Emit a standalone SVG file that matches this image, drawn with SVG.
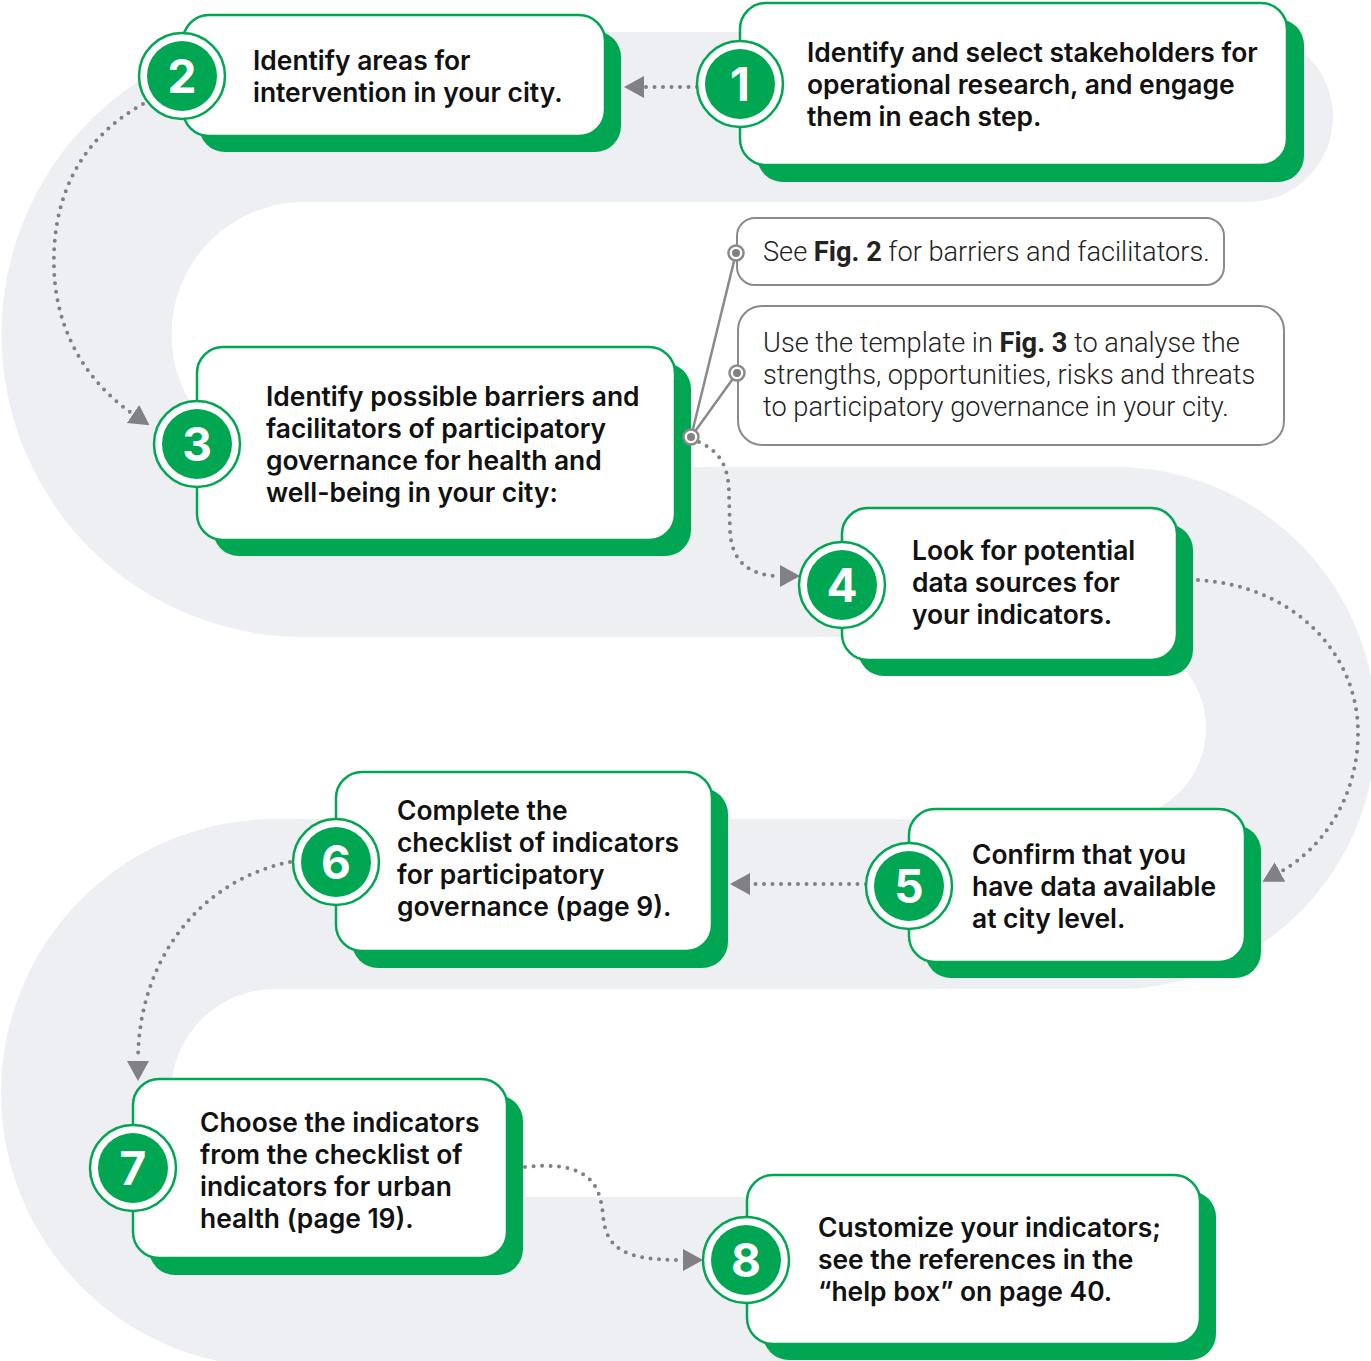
<svg xmlns="http://www.w3.org/2000/svg" width="1371" height="1361" viewBox="0 0 1371 1361">
<defs>
<marker id="arr" viewBox="0 0 20 22" refX="0" refY="11" markerWidth="20" markerHeight="22" markerUnits="userSpaceOnUse" orient="auto">
<path d="M0,0 L20,11 L0,22 Z" fill="#808085"/>
</marker>
</defs>
<style>
.bg{fill:none;stroke:#EEEFF3;stroke-width:170;stroke-linecap:round}
.shadow{fill:#00A651}
.box{fill:#fff;stroke:#00A651;stroke-width:2.5}
.ring{fill:#fff;stroke:#00A651;stroke-width:2.5}
.disc{fill:#00A651}
.num{font-family:Inter,Roboto,"Liberation Sans",sans-serif;font-weight:700;font-size:46px;fill:#fff;text-anchor:middle}
.t{font-family:Inter,Roboto,"Liberation Sans",sans-serif;font-weight:600;font-size:26.4px;fill:#111}
.c{font-family:Roboto,"Liberation Sans",sans-serif;font-weight:300;font-size:27.2px;fill:#222}
.c tspan.b{font-weight:700}
.callout{fill:#fff;stroke:#8A8A8C;stroke-width:2}
.dot{fill:none;stroke:#808085;stroke-width:4;stroke-linecap:round;stroke-dasharray:0 8.5;marker-end:url(#arr)}
.lead{stroke:#8A8A8C;stroke-width:2.5;fill:none}
.pin{fill:#fff;stroke:#8A8A8C;stroke-width:2.5}
.pind{fill:#808085}
</style>
<rect width="1371" height="1361" fill="#fff"/>
<path class="bg" d="M1248,117 L304,117 A217.5,217.5 0 0 0 304,552 L1115,552 A176,176 0 0 1 1115,904 L275,904 A189,189 0 0 0 275,1282 L1100,1282"/>

<g id="connectors">
<path class="dot" d="M697,87 L644,87"/>
<path class="dot" d="M143,104 C78,140 52,200 54,268 C56,340 95,388 133,414"/>
<path class="dot" d="M699,442 C722,452 729,470 729,495 L730,530 C731,560 748,576 780,576"/>
<path class="dot" d="M1198,580 C1290,585 1358,650 1358,733 C1358,800 1320,850 1280,872"/>
<path class="dot" d="M866,884 L750,884"/>
<path class="dot" d="M290,862 C200,880 138,960 138,1061"/>
<path class="dot" d="M525,1167 C590,1160 600,1185 603,1215 C606,1250 625,1260 683,1260"/>
<line class="lead" x1="691" y1="437" x2="736" y2="253"/>
<line class="lead" x1="691" y1="437" x2="737" y2="373"/>
</g>

<g id="node1">
<rect class="shadow" x="757" y="19" width="547" height="163" rx="26"/>
<rect class="box" x="740" y="3" width="547" height="162" rx="26"/>
<circle class="ring" cx="740" cy="84" r="43"/>
<circle class="disc" cx="740" cy="84" r="35"/>
<text class="num" x="740" y="101">1</text>
<text class="t" x="807" y="62">Identify and select stakeholders for</text>
<text class="t" x="807" y="94">operational research, and engage</text>
<text class="t" x="807" y="126">them in each step.</text>
</g>

<g id="node2">
<rect class="shadow" x="199" y="31" width="422" height="121" rx="26"/>
<rect class="box" x="183" y="15" width="422" height="121" rx="26"/>
<circle class="ring" cx="182" cy="76" r="43"/>
<circle class="disc" cx="182" cy="76" r="35"/>
<text class="num" x="182" y="93">2</text>
<text class="t" x="253" y="70">Identify areas for</text>
<text class="t" x="253" y="102">intervention in your city.</text>
</g>

<g id="node3">
<rect class="shadow" x="213" y="363" width="478" height="193" rx="26"/>
<rect class="box" x="197" y="347" width="478" height="193" rx="26"/>
<circle class="ring" cx="197" cy="444" r="43"/>
<circle class="disc" cx="197" cy="444" r="35"/>
<text class="num" x="197" y="461">3</text>
<text class="t" x="266" y="406">Identify possible barriers and</text>
<text class="t" x="266" y="438">facilitators of participatory</text>
<text class="t" x="266" y="470">governance for health and</text>
<text class="t" x="266" y="502">well-being in your city:</text>
</g>

<g id="callout1">
<rect class="callout" x="737" y="218" width="487" height="67" rx="18"/>
<text class="c" x="763" y="261">See <tspan class="b">Fig. 2</tspan> for barriers and facilitators.</text>
</g>

<g id="callout2">
<rect class="callout" x="738" y="306" width="546" height="139" rx="24"/>
<text class="c" x="763" y="352">Use the template in <tspan class="b">Fig. 3</tspan> to analyse the</text>
<text class="c" x="763" y="384">strengths, opportunities, risks and threats</text>
<text class="c" x="763" y="416">to participatory governance in your city.</text>
</g>

<g id="pins">
<circle class="pin" cx="736" cy="253" r="7.5"/>
<circle class="pind" cx="736" cy="253" r="4"/>
<circle class="pin" cx="737" cy="373" r="7.5"/>
<circle class="pind" cx="737" cy="373" r="4"/>
<circle class="pin" cx="691" cy="437" r="7.5"/>
<circle class="pind" cx="691" cy="437" r="4"/>
</g>

<g id="node4">
<rect class="shadow" x="858" y="524" width="335" height="152" rx="26"/>
<rect class="box" x="842" y="508" width="335" height="152" rx="26"/>
<circle class="ring" cx="842" cy="585" r="43"/>
<circle class="disc" cx="842" cy="585" r="35"/>
<text class="num" x="842" y="602">4</text>
<text class="t" x="912" y="560">Look for potential</text>
<text class="t" x="912" y="592">data sources for</text>
<text class="t" x="912" y="624">your indicators.</text>
</g>

<g id="node5">
<rect class="shadow" x="925" y="825" width="336" height="153" rx="26"/>
<rect class="box" x="909" y="809" width="336" height="153" rx="26"/>
<circle class="ring" cx="909" cy="886" r="43"/>
<circle class="disc" cx="909" cy="886" r="35"/>
<text class="num" x="909" y="903">5</text>
<text class="t" x="972" y="864">Confirm that you</text>
<text class="t" x="972" y="896">have data available</text>
<text class="t" x="972" y="928">at city level.</text>
</g>

<g id="node6">
<rect class="shadow" x="352" y="788" width="376" height="180" rx="26"/>
<rect class="box" x="336" y="772" width="376" height="179" rx="26"/>
<circle class="ring" cx="336" cy="862" r="43"/>
<circle class="disc" cx="336" cy="862" r="35"/>
<text class="num" x="336" y="879">6</text>
<text class="t" x="397" y="820">Complete the</text>
<text class="t" x="397" y="852">checklist of indicators</text>
<text class="t" x="397" y="884">for participatory</text>
<text class="t" x="397" y="916">governance (page 9).</text>
</g>

<g id="node7">
<rect class="shadow" x="149" y="1095" width="374" height="180" rx="26"/>
<rect class="box" x="133" y="1079" width="374" height="179" rx="26"/>
<circle class="ring" cx="133" cy="1168" r="43"/>
<circle class="disc" cx="133" cy="1168" r="35"/>
<text class="num" x="133" y="1185">7</text>
<text class="t" x="200" y="1132">Choose the indicators</text>
<text class="t" x="200" y="1164">from the checklist of</text>
<text class="t" x="200" y="1196">indicators for urban</text>
<text class="t" x="200" y="1228">health (page 19).</text>
</g>

<g id="node8">
<rect class="shadow" x="763" y="1191" width="453" height="169" rx="26"/>
<rect class="box" x="747" y="1175" width="453" height="169" rx="26"/>
<circle class="ring" cx="746" cy="1260" r="43"/>
<circle class="disc" cx="746" cy="1260" r="35"/>
<text class="num" x="746" y="1277">8</text>
<text class="t" x="818" y="1237">Customize your indicators;</text>
<text class="t" x="818" y="1269">see the references in the</text>
<text class="t" x="818" y="1301">“help box” on page 40.</text>
</g>
</svg>
